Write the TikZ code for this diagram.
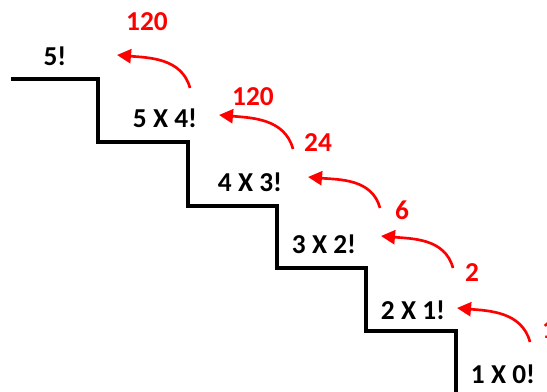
\documentclass[tikz,border=0pt]{standalone}
\usepackage{fontspec}
\setmainfont{Carlito}
\usetikzlibrary{arrows.meta}

\begin{document}
\begin{tikzpicture}[x=0.75pt, y=0.75pt,
    calc/.style={font=\fontsize{20.5}{24}\selectfont\bfseries, inner sep=0pt},
    val/.style={calc, text=red},
    back/.style={red, line width=2pt, -{Triangle[length=10.5pt, width=10.5pt]}}]
    \useasboundingbox (0,0) rectangle (547,392);

    % the staircase
    \draw[line width=2.6pt] (11,313) -| (98,250) -| (188,186) -| (277,124) -| (366,61) -| (456,0);

    % one call on every step
    \node[calc] (f5) at (55,336) {5!};
    \node[calc] (f4) at (165,274) {5 X 4!};
    \node[calc] (f3) at (250,210) {4 X 3!};
    \node[calc] (f2) at (324,148) {3 X 2!};
    \node[calc] (f1) at (413,82) {2 X 1!};
    \node[calc] (f0) at (503,18) {1 X 0!};

    % values handed back up
    \node[val] (v5) at (147,370) {120};
    \node[val] (v4) at (253,295) {120};
    \node[val] (v3) at (318,249) {24};
    \node[val] (v2) at (402,182) {6};
    \node[val] (v1) at (472,119) {2};
    \node[val] (v0) at (549,62) {1};

    \draw[back] ([shift={(-63,9)}]v4.center) to[out=105, in=-5] ([shift={(62,1)}]f5.center);
    \draw[back] ([shift={(-25,-6)}]v3.center) to[out=105, in=-5] ([shift={(54,3)}]f4.center);
    \draw[back] ([shift={(-22,2)}]v2.center) to[out=105, in=-5] ([shift={(58,5)}]f3.center);
    \draw[back] ([shift={(-19,5)}]v1.center) to[out=105, in=-5] ([shift={(57,8)}]f2.center);
    \draw[back] ([shift={(-19,-12)}]v0.center) to[out=105, in=-5] ([shift={(44,2)}]f1.center);
\end{tikzpicture}
\end{document}
